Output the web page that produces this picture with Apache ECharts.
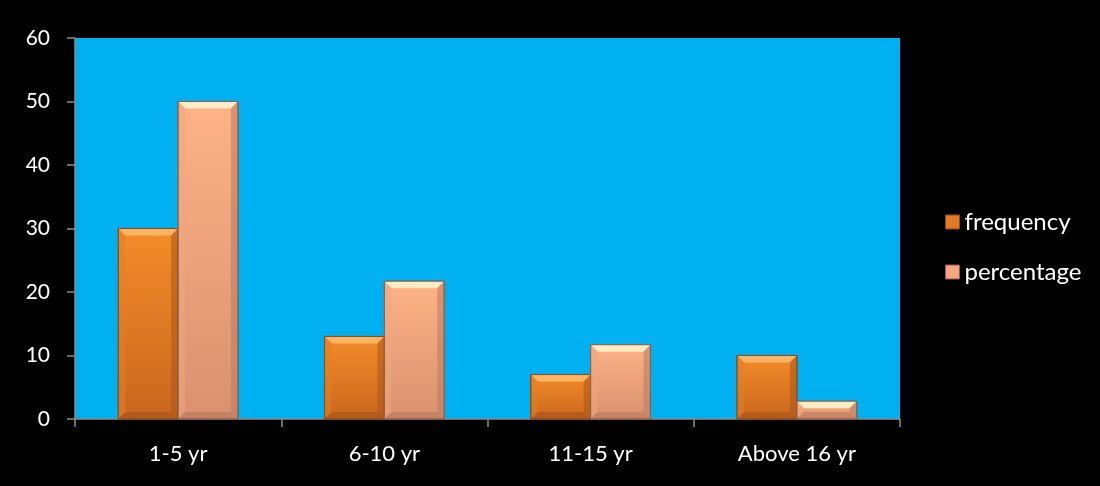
<!DOCTYPE html>
<html>
<head>
<meta charset="utf-8">
<script src="https://cdn.jsdelivr.net/npm/echarts@6/dist/echarts.min.js"></script>
<style>
  html, body { margin: 0; padding: 0; background: #000; }
  #chart { width: 1100px; height: 486px; }
</style>
</head>
<body>
<div id="chart"></div>
<script>
// Age groups (years of experience) and their counts / shares
const categories = ['1-5 yr', '6-10 yr', '11-15 yr', 'Above 16 yr'];
const frequency = [30, 13, 7, 10];
const percentage = [50, 21.7, 11.7, 2.8];
const yTicks = [0, 10, 20, 30, 40, 50, 60];

const FONT = 'Lato, "Open Sans", sans-serif';

// Colour sets for the bevelled bars: front face gradient + bevel edges
const palettes = {
  frequency: {
    faceTop: '#F48C2A', faceBottom: '#C9661E',
    top: '#FBB565', left: '#E07F28', right: '#A9561A', bottom: '#9E5019', edge: '#8A4A18'
  },
  percentage: {
    faceTop: '#FDB386', faceBottom: '#D9916F',
    top: '#FFEBC4', left: '#F1A57E', right: '#B97A5C', bottom: '#B17456', edge: '#8C5E48'
  }
};

function bevelBar(pal, side) {
  return function (params, api) {
    const idx = api.value(0);
    const val = api.value(1);
    const base = api.coord([idx, 0]);
    const top = api.coord([idx, val]);
    const band = api.size([1, 0])[0];
    const w = band * 0.29;
    const x0 = side === 0 ? base[0] - w : base[0];
    const x1 = x0 + w;
    const y0 = top[1];
    const y1 = base[1];
    const h = y1 - y0;
    const b = Math.min(7, h / 2, w / 2);
    return {
      type: 'group',
      children: [
        {
          type: 'rect',
          shape: { x: x0, y: y0, width: w, height: h },
          style: {
            fill: new echarts.graphic.LinearGradient(0, 0, 0, 1, [
              { offset: 0, color: pal.faceTop },
              { offset: 1, color: pal.faceBottom }
            ]),
            stroke: pal.edge, lineWidth: 1
          }
        },
        { // top bevel
          type: 'polygon',
          shape: { points: [[x0, y0], [x1, y0], [x1 - b, y0 + b], [x0 + b, y0 + b]] },
          style: { fill: pal.top }
        },
        { // left bevel
          type: 'polygon',
          shape: { points: [[x0, y0], [x0 + b, y0 + b], [x0 + b, y1 - b], [x0, y1]] },
          style: { fill: pal.left, opacity: 0.55 }
        },
        { // right bevel
          type: 'polygon',
          shape: { points: [[x1, y0], [x1, y1], [x1 - b, y1 - b], [x1 - b, y0 + b]] },
          style: { fill: pal.right, opacity: 0.55 }
        },
        { // bottom bevel
          type: 'polygon',
          shape: { points: [[x0, y1], [x1, y1], [x1 - b, y1 - b], [x0 + b, y1 - b]] },
          style: { fill: pal.bottom, opacity: 0.5 }
        },
        {
          type: 'rect',
          shape: { x: x0, y: y0, width: w, height: h },
          style: { fill: 'none', stroke: pal.edge, lineWidth: 1 }
        }
      ]
    };
  };
}

const chart = echarts.init(document.getElementById('chart'), null, { renderer: 'canvas' });

chart.setOption({
  backgroundColor: '#000000',
  animation: false,
  grid: {
    left: 75, right: 200, top: 38, bottom: 67,
    show: true, backgroundColor: '#00B0F0', borderWidth: 0
  },
  legend: {
    orient: 'vertical',
    left: 940, top: 204,
    itemWidth: 14, itemHeight: 14, itemGap: 24,
    icon: 'rect',
    textStyle: { color: '#FFFFFF', fontSize: 24, lineHeight: 26, fontFamily: FONT },
    data: [
      { name: 'frequency', itemStyle: { color: '#E27A25', borderColor: '#8A4A18', borderWidth: 1 } },
      { name: 'percentage', itemStyle: { color: '#F4A57E', borderColor: '#8C5E48', borderWidth: 1 } }
    ]
  },
  xAxis: {
    type: 'category',
    data: categories,
    axisLine: { lineStyle: { color: '#8C8C8C', width: 1.5 } },
    axisTick: { show: true, alignWithLabel: false, length: 8, lineStyle: { color: '#8C8C8C', width: 1.5 } },
    axisLabel: { color: '#FFFFFF', fontSize: 22, fontFamily: FONT, margin: 24 },
    splitLine: { show: false }
  },
  yAxis: {
    type: 'value',
    min: yTicks[0], max: yTicks[yTicks.length - 1], interval: yTicks[1] - yTicks[0],
    axisLine: { show: true, lineStyle: { color: '#8C8C8C', width: 1.5 } },
    axisTick: { show: true, length: 8, lineStyle: { color: '#8C8C8C', width: 1.5 } },
    axisLabel: { color: '#FFFFFF', fontSize: 21, fontFamily: FONT, margin: 25 },
    splitLine: { show: false }
  },
  series: [
    {
      name: 'frequency',
      type: 'custom',
      itemStyle: { color: '#E27A25' },
      renderItem: bevelBar(palettes.frequency, 0),
      encode: { x: 0, y: 1 },
      data: frequency.map((v, i) => [i, v])
    },
    {
      name: 'percentage',
      type: 'custom',
      itemStyle: { color: '#F4A57E' },
      renderItem: bevelBar(palettes.percentage, 1),
      encode: { x: 0, y: 1 },
      data: percentage.map((v, i) => [i, v])
    }
  ]
});
</script>
</body>
</html>
